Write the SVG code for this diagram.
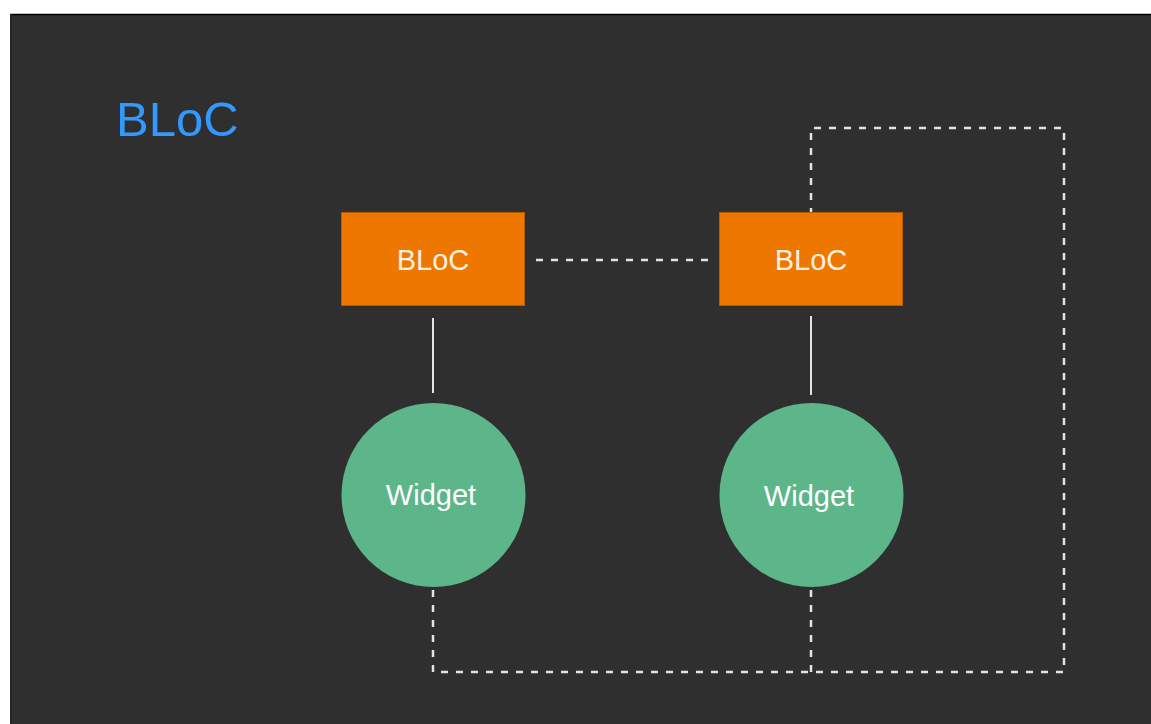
<svg xmlns="http://www.w3.org/2000/svg" width="1151" height="724" viewBox="0 0 1151 724">
<style>
.bloc rect{fill:#ee7700;stroke:#b85a00;stroke-width:1}
.bloc text,.widget text{font-family:"Liberation Sans",Arial,sans-serif;font-size:29px;fill:#fdf0e0;text-anchor:middle}
.widget circle{fill:#5db68a}
.widget text{fill:#ffffff}
.dash{fill:none;stroke:#e3e3e3;stroke-width:2.5;stroke-dasharray:7 8}
.solid{fill:none;stroke:#e3e3e3;stroke-width:2}
</style>
<rect x="0" y="0" width="1151" height="724" fill="#ffffff"/>
<rect x="10" y="14" width="1141" height="710" fill="#2f2f2f"/>
<line x1="10" y1="14.5" x2="1151" y2="14.5" stroke="#000" stroke-width="1.5"/>
<line x1="11" y1="14" x2="11" y2="724" stroke="#262626" stroke-width="2"/>
<text id="title" x="116" y="136" font-family="'Liberation Sans',Arial,sans-serif" font-size="49" fill="#3399ff">BLoC</text>
<g id="connectors">
<line class="dash" x1="536" y1="260" x2="712" y2="260"/>
<line class="solid" x1="433" y1="318" x2="433" y2="393"/>
<line class="solid" x1="811" y1="316" x2="811" y2="395"/>
<polyline class="dash" points="433,590 433,672 1064,672 1064,128 811,128 811,212"/>
<line class="dash" x1="811" y1="590" x2="811" y2="672"/>
</g>
<g id="bloc1" class="bloc">
<rect x="341.5" y="212.5" width="183" height="93"/>
<text x="433" y="270">BLoC</text>
</g>
<g id="bloc2" class="bloc">
<rect x="719.5" y="212.5" width="183" height="93"/>
<text x="811" y="270">BLoC</text>
</g>
<g id="widget1" class="widget">
<circle cx="433.5" cy="495" r="92"/>
<text x="431" y="505">Widget</text>
</g>
<g id="widget2" class="widget">
<circle cx="811.5" cy="495" r="92"/>
<text x="809" y="506">Widget</text>
</g>
</svg>
